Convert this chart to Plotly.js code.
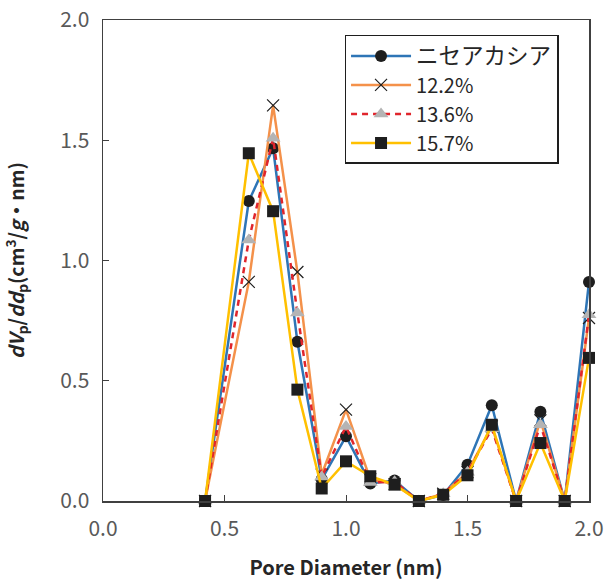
<!DOCTYPE html>
<html>
<head>
<meta charset="utf-8">
<script src="https://cdn.plot.ly/plotly-3.0.1.min.js"></script>
<style>html,body{margin:0;padding:0;background:#fff;}#chart{width:614px;height:583px;}</style>
</head>
<body>
<div id="chart"></div>
<script>
const poreDiameter = [0.42, 0.6, 0.7, 0.8, 0.9, 1.0, 1.1, 1.2, 1.3, 1.4, 1.5, 1.6, 1.7, 1.8, 1.9, 2.0];
const seriesNames = ['ニセアカシア', '12.2%', '13.6%', '15.7%'];
const niseakashia = [0, 1.247, 1.467, 0.662, 0.09, 0.269, 0.073, 0.085, 0, 0.025, 0.151, 0.398, 0, 0.371, 0, 0.911];
const pct122 = [0, 0.911, 1.645, 0.952, 0.11, 0.38, 0.09, 0.07, 0, 0.03, 0.12, 0.31, 0, 0.335, 0, 0.761];
const pct136 = [0, 1.085, 1.508, 0.782, 0.1, 0.31, 0.077, 0.08, 0, 0.03, 0.12, 0.30, 0, 0.317, 0, 0.774];
const pct157 = [0, 1.446, 1.205, 0.463, 0.052, 0.165, 0.103, 0.068, 0, 0.026, 0.107, 0.317, 0, 0.241, 0, 0.595];
const xTicks = [0, 0.5, 1.0, 1.5, 2.0];
const yTicks = [0, 0.5, 1.0, 1.5, 2.0];

const traces = [
  {x: poreDiameter, y: niseakashia, name: '<span style="font-size:22.5px">' + seriesNames[0] + '</span>',
   mode: 'lines+markers', cliponaxis: false,
   line: {color: '#2E75B6', width: 2.5},
   marker: {symbol: 'circle', size: 12, color: '#1e1e1e'}},
  {x: poreDiameter, y: pct122, name: seriesNames[1], mode: 'lines+markers', cliponaxis: false,
   line: {color: '#F4914A', width: 2.5},
   marker: {symbol: 'x-thin-open', size: 12, color: '#1e1e1e', line: {color: '#1e1e1e', width: 1.2}}},
  {x: poreDiameter, y: pct136, name: seriesNames[2], mode: 'lines+markers', cliponaxis: false,
   line: {color: '#E0252C', width: 2.5, dash: '6px,5px'},
   marker: {symbol: 'triangle-up', size: 13, color: '#B4B4B4'}},
  {x: poreDiameter, y: pct157, name: seriesNames[3], mode: 'lines+markers', cliponaxis: false,
   line: {color: '#FFC000', width: 2.5},
   marker: {symbol: 'square', size: 12, color: '#1e1e1e'}}
];

const axisCommon = {
  range: [0, 2], showgrid: false, zeroline: false,
  showline: true, linecolor: '#404040', linewidth: 1.5, mirror: true,
  ticks: 'inside', ticklen: 6, tickwidth: 1, tickcolor: '#404040',
  tickformat: '.1f',
  tickfont: {family: 'Noto Sans CJK JP, Noto Sans', size: 21, color: '#595959'}
};

const layout = {
  width: 614, height: 583,
  margin: {l: 103, r: 25, t: 20, b: 82},
  paper_bgcolor: '#fff', plot_bgcolor: '#fff',
  showlegend: true,
  legend: {x: 0.497, y: 0.969, xanchor: 'left', yanchor: 'top',
    bgcolor: '#fff', bordercolor: '#1e1e1e', borderwidth: 1.5,
    itemwidth: 60,
    font: {family: 'Noto Sans CJK JP, Noto Sans', size: 20, color: '#262626'},
    tracegroupgap: 0},
  xaxis: Object.assign({}, axisCommon, {
    tickvals: xTicks,
    ticklabelstandoff: 8,
    title: {text: 'Pore Diameter (nm)', standoff: 20,
      font: {family: 'Noto Sans CJK JP, Noto Sans', size: 20, color: '#262626', weight: 'bold'}}
  }),
  yaxis: Object.assign({}, axisCommon, {
    tickvals: yTicks,
    ticklabelstandoff: 8,
    title: {text: '<b><i>dV</i><sub>p</sub>/<i>dd</i><sub>p</sub>(cm<sup>3</sup>/<i>g</i>・nm)</b>', standoff: 30,
      font: {family: 'Noto Sans CJK JP, Noto Sans', size: 19.5, color: '#262626'}}
  })
};

Plotly.newPlot('chart', traces, layout, {displayModeBar: false, staticPlot: true});
</script>
</body>
</html>
